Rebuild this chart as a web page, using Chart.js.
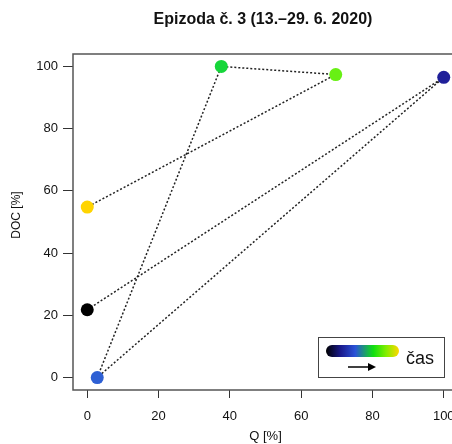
<!DOCTYPE html>
<html>
<head>
<meta charset="utf-8">
<script src="https://cdn.jsdelivr.net/npm/chart.js@4/dist/chart.umd.min.js"></script>
<style>
  html, body { margin: 0; padding: 0; overflow: hidden; background: #fff; }
  #wrap { width: 452px; height: 444px; overflow: hidden; }
</style>
</head>
<body>
<div id="wrap"><canvas id="c" width="470" height="444"></canvas></div>
<script>
// values, in time order
const qValues = [0, 100, 2.8, 37.6, 69.7, 0];
const docValues = [21.8, 96.5, 0, 100, 97.4, 54.8];
const pointColors = ['#000000', '#1f1f99', '#2e60d4', '#16d63a', '#68f014', '#ffd400'];
const xTicks = [0, 20, 40, 60, 80, 100];
const yTicks = [0, 20, 40, 60, 80, 100];
const titleText = 'Epizoda č. 3 (13.–29. 6. 2020)';
const xTitle = 'Q [%]';
const yTitle = 'DOC [%]';
const legendText = 'čas';

const FONT = '"Liberation Sans", Arial, sans-serif';

const points = qValues.map((q, i) => ({ x: q, y: docValues[i] }));

// title, y label, plot box and the colour-bar legend
const extras = {
  id: 'extras',
  afterDraw(chart) {
    const ctx = chart.ctx, a = chart.chartArea;
    ctx.save();
    ctx.strokeStyle = '#555';
    ctx.lineWidth = 1.5;
    ctx.strokeRect(a.left, a.top, a.right - a.left, a.bottom - a.top);

    ctx.fillStyle = '#111';
    ctx.font = 'bold 16px ' + FONT;
    ctx.textAlign = 'center';
    ctx.textBaseline = 'middle';
    ctx.fillText(titleText, 263, 20);

    ctx.save();
    ctx.translate(17, 215);
    ctx.rotate(-Math.PI / 2);
    ctx.font = '12px ' + FONT;
    ctx.fillText(yTitle, 0, 0);
    ctx.restore();

    // legend box
    ctx.fillStyle = '#fff';
    ctx.fillRect(318, 337, 126, 40);
    ctx.strokeStyle = '#444';
    ctx.lineWidth = 1;
    ctx.strokeRect(318.5, 337.5, 126, 40);

    const g = ctx.createLinearGradient(326, 0, 399, 0);
    g.addColorStop(0, '#000000');
    g.addColorStop(0.2, '#1a1a8c');
    g.addColorStop(0.4, '#2a52d8');
    g.addColorStop(0.65, '#10e010');
    g.addColorStop(0.82, '#80ee00');
    g.addColorStop(1, '#ffd700');
    ctx.fillStyle = g;
    ctx.beginPath();
    ctx.roundRect(326, 345, 73, 12, 6);
    ctx.fill();

    ctx.strokeStyle = '#000';
    ctx.lineWidth = 1.5;
    ctx.beginPath();
    ctx.moveTo(348, 367);
    ctx.lineTo(369, 367);
    ctx.stroke();
    ctx.fillStyle = '#000';
    ctx.beginPath();
    ctx.moveTo(376, 367);
    ctx.lineTo(368, 363);
    ctx.lineTo(368, 371);
    ctx.closePath();
    ctx.fill();

    ctx.fillStyle = '#111';
    ctx.font = '18px ' + FONT;
    ctx.textAlign = 'left';
    ctx.textBaseline = 'alphabetic';
    ctx.fillText(legendText, 406, 364);
    ctx.restore();
  }
};

new Chart(document.getElementById('c'), {
  type: 'scatter',
  data: {
    datasets: [{
      data: points,
      showLine: true,
      borderColor: '#222',
      borderWidth: 1.5,
      borderDash: [2, 2],
      pointRadius: 6.5,
      pointHoverRadius: 6.5,
      pointBackgroundColor: pointColors,
      pointBorderColor: pointColors,
      pointBorderWidth: 0,
      clip: false
    }]
  },
  options: {
    responsive: false,
    animation: false,
    events: [],
    layout: { padding: { left: 0, top: 54, right: 12, bottom: 0 } },
    plugins: { legend: { display: false }, tooltip: { enabled: false } },
    scales: {
      x: {
        type: 'linear', min: -4, max: 104,
        afterBuildTicks: s => { s.ticks = xTicks.map(v => ({ value: v })); },
        afterFit: s => { s.height = 54; },
        grid: { drawOnChartArea: false, drawTicks: true, tickLength: 8, color: '#333', lineWidth: 1 },
        border: { display: false },
        ticks: { color: '#111', font: { size: 13, family: FONT }, padding: 11, maxRotation: 0 },
        title: { display: true, text: xTitle, color: '#111', font: { size: 13, family: FONT }, padding: { top: 0, bottom: 0 } }
      },
      y: {
        type: 'linear', min: -4, max: 104,
        afterBuildTicks: s => { s.ticks = yTicks.map(v => ({ value: v })); },
        afterFit: s => { s.width = 73; },
        grid: { drawOnChartArea: false, drawTicks: true, tickLength: 10, color: '#333', lineWidth: 1 },
        border: { display: false },
        ticks: { color: '#111', font: { size: 13, family: FONT }, padding: 5 }
      }
    }
  },
  plugins: [extras]
});
</script>
</body>
</html>
